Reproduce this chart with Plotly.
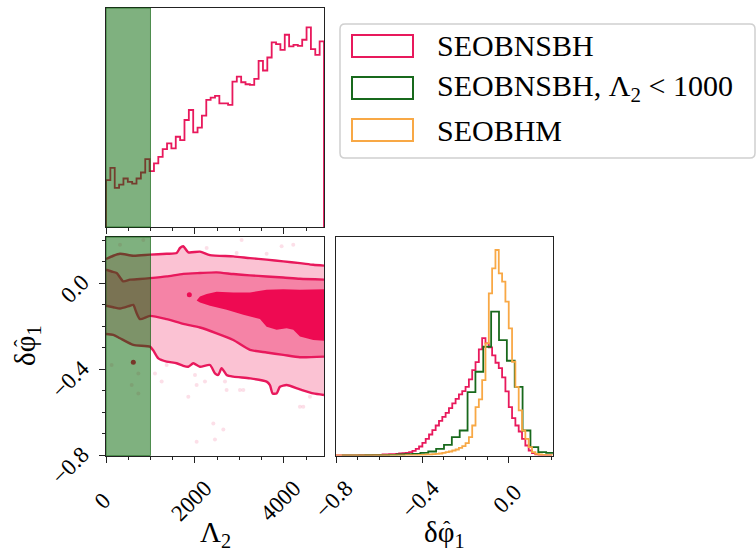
import numpy as np
import plotly.graph_objects as go

# ---------------- data ----------------
# Lambda_2 marginal (SEOBNSBH), 50 bins over [0, 4900]
lam_edges = np.linspace(0, 4900, 51)
lam_hist = [140, 177, 117, 127, 145, 135, 130, 145, 163, 203,
            167, 190, 210, 233, 250, 235, 270, 260, 320, 350,
            283, 297, 333, 380, 387, 392, 370, 370, 365, 435,
            450, 433, 427, 425, 443, 497, 468, 507, 552, 547,
            530, 575, 540, 545, 542, 560, 597, 532, 515, 555]

# delta phi_1 marginals
phi_edges = np.arange(-52, 14) / 65.0
phi_hist_nsbh = [0, 0, 0, 0, 0, 0, 0,
                 1, 1, 1, 1, 2,
                 2, 2, 3, 3, 4, 4, 5, 6, 7, 8,
                 10, 14, 20, 27, 38, 50, 63, 76, 90, 104,
                 116, 128, 142, 156, 170, 183, 193, 206, 228, 256,
                 280, 318, 352, 336, 324, 300, 278, 262, 234, 192,
                 145, 112, 90, 72, 50, 30, 15, 7, 3, 1, 1, 0, 0]
phi_hist_bhm = [0] * 21 + [1, 1, 1, 1, 2, 2, 3, 3, 4, 5,
                           6, 8, 10, 12, 15, 18, 23, 28, 37, 55,
                           90, 145, 168, 226, 336, 486, 561, 616, 546, 521,
                           461, 381, 281, 206, 135, 75, 50, 25, 10, 5, 3, 2, 1, 1]
phi_edges_low = np.linspace(-0.7731, 0.2097, 28)
phi_hist_low = [0, 0, 0, 1, 1,
                1, 2, 3, 4, 5,
                8, 12, 20, 32, 55,
                75, 190, 251, 326, 431,
                346, 284, 206, 75, 25, 10, 8]

# 2D credible contours (Lambda_2, delta phi_1)
outer_up_lam = [0, 165, 315, 614, 989, 1363, 1588, 1663, 1738, 1850, 2112, 2337,
                2862, 3236, 3610, 3985, 4359, 4659, 4900]
outer_up_phi = [0.112, 0.127, 0.136, 0.127, 0.132, 0.136, 0.140, 0.163, 0.171, 0.143,
                0.146, 0.130, 0.124, 0.116, 0.109, 0.101, 0.093, 0.085, 0.081]
outer_lo_lam = [0, 165, 315, 614, 989, 1064, 1176, 1363, 1588, 1738, 1850, 1962, 2112,
                2337, 2449, 2524, 2599, 2711, 2861, 3236, 3610, 3685, 3745, 3835, 3910,
                4060, 4359, 4659, 4900]
outer_lo_phi = [-0.236, -0.240, -0.256, -0.287, -0.295, -0.313, -0.349, -0.364, -0.372,
                -0.384, -0.388, -0.372, -0.388, -0.380, -0.419, -0.426, -0.395, -0.426,
                -0.434, -0.442, -0.457, -0.473, -0.512, -0.512, -0.481, -0.473, -0.493,
                -0.512, -0.519]
mid_up_lam = [0, 127, 240, 389, 539, 764, 989, 1363, 1738, 2112, 2487, 2861, 3236,
              3610, 3985, 4359, 4900]
mid_up_phi = [0.062, 0.054, 0.047, 0.008, 0.016, 0.019, 0.023, 0.031, 0.043, 0.047,
              0.050, 0.042, 0.036, 0.031, 0.026, 0.020, 0.016]
mid_lo_lam = [0, 165, 315, 539, 614, 674, 764, 989, 1363, 1738, 2112, 2487, 2861, 3236,
              3610, 3985, 4359, 4900]
mid_lo_phi = [-0.105, -0.112, -0.118, -0.105, -0.101, -0.132, -0.167, -0.152, -0.167,
              -0.189, -0.206, -0.233, -0.264, -0.310, -0.322, -0.333, -0.344, -0.341]
inner_lam = [2037, 2112, 2262, 2487, 2861, 3236, 3610, 3985, 4359, 4900,
             4900, 4659, 4359, 4209, 4060, 3835, 3610, 3460, 3086, 2711, 2337, 2112, 2037]
inner_phi = [-0.081, -0.062, -0.050, -0.040, -0.043, -0.043, -0.031, -0.028, -0.031, -0.028,
             -0.267, -0.264, -0.248, -0.217, -0.209, -0.217, -0.202, -0.167, -0.147, -0.124,
             -0.105, -0.090, -0.081]

# scattered samples outside the contours
pts_lam = [2262, 2936, 3610, 3947, 4209, 3048, 1363, 1251, 1101, 2000, 2224, 2674, 2711,
           3011, 3086, 1850, 2037, 4359, 4434, 4584, 2412, 2637, 2449, 2037, 315, 839,
           127, 727, 577, 727]
pts_phi = [0.163, 0.14, 0.136, 0.171, 0.178, 0.2, -0.38, -0.457, -0.419, -0.426, -0.457,
           -0.457, -0.496, -0.496, -0.496, -0.527, -0.473, -0.574, -0.574, -0.527, -0.651,
           -0.679, -0.726, -0.736, 0.178, 0.2, -0.38, -0.419, -0.473, -0.512]
dense_lam = [614, 1873]
dense_phi = [-0.367, -0.054]

lam_cut = 1000
lam_ticks = [0, 2000, 4000]
phi_ticks = [-0.8, -0.4, 0.0]
legend_labels = ["SEOBNSBH", "SEOBNSBH, Λ<sub>2</sub> &lt; 1000", "SEOBHM"]

# ---------------- style ----------------
W, H = 756, 551
RED = "#e8195c"
GREEN = "#18691c"
ORANGE = "#f8a845"
FONT = "Liberation Serif"
NB = "\u00a0"


def px(x):
    return x / W


def py(y):
    return 1 - y / H


def step_xy(edges, heights):
    edges = list(edges)
    xs = [edges[0]] + edges + [edges[-1]]
    ys = [0] + list(heights) + [heights[-1], 0]
    return xs, ys


def fmt_phi(v):
    s = f"{v:.1f}"
    return s.replace("-", "\u2212")


fig = go.Figure()

# top marginal
xs, ys = step_xy(lam_edges, lam_hist)
fig.add_trace(go.Scatter(x=xs, y=ys, mode="lines", line=dict(color=RED, width=1.8, shape="hv"),
                         xaxis="x", yaxis="y", showlegend=False, hoverinfo="skip"))

# 2D panel
fig.add_trace(go.Scatter(x=pts_lam, y=pts_phi, mode="markers",
                         marker=dict(color="rgba(240,110,150,0.22)", size=4),
                         xaxis="x2", yaxis="y2", showlegend=False, hoverinfo="skip"))
fig.add_trace(go.Scatter(x=outer_up_lam + outer_lo_lam[::-1], y=outer_up_phi + outer_lo_phi[::-1],
                         mode="none", fill="toself", fillcolor="#fbc2d3",
                         xaxis="x2", yaxis="y2", showlegend=False, hoverinfo="skip"))
fig.add_trace(go.Scatter(x=mid_up_lam + mid_lo_lam[::-1], y=mid_up_phi + mid_lo_phi[::-1],
                         mode="none", fill="toself", fillcolor="#f583a6",
                         xaxis="x2", yaxis="y2", showlegend=False, hoverinfo="skip"))
fig.add_trace(go.Scatter(x=inner_lam, y=inner_phi, mode="none", fill="toself", fillcolor="#ee0a52",
                         xaxis="x2", yaxis="y2", showlegend=False, hoverinfo="skip"))
fig.add_trace(go.Scatter(x=dense_lam, y=dense_phi, mode="markers",
                         marker=dict(color="#ee0a52", size=5),
                         xaxis="x2", yaxis="y2", showlegend=False, hoverinfo="skip"))
for lx, ly in [(outer_up_lam, outer_up_phi), (outer_lo_lam, outer_lo_phi),
               (mid_up_lam, mid_up_phi), (mid_lo_lam, mid_lo_phi)]:
    fig.add_trace(go.Scatter(x=lx, y=ly, mode="lines",
                             line=dict(color=RED, width=2.4, shape="spline", smoothing=0.6),
                             xaxis="x2", yaxis="y2", showlegend=False, hoverinfo="skip"))

# right marginal
for edges, hist, col in [(phi_edges, phi_hist_nsbh, RED),
                         (phi_edges_low, phi_hist_low, GREEN),
                         (phi_edges, phi_hist_bhm, ORANGE)]:
    xs, ys = step_xy(edges, hist)
    fig.add_trace(go.Scatter(x=xs, y=ys, mode="lines", line=dict(color=col, width=1.8, shape="hv"),
                             xaxis="x3", yaxis="y3", showlegend=False, hoverinfo="skip"))

tickfont = dict(family=FONT, size=23, color="black")
common = dict(showline=True, mirror=True, linecolor="#222", linewidth=1.3, automargin=False,
              showgrid=False, zeroline=False, ticks="outside", ticklen=6, tickwidth=1.2,
              tickcolor="#222", tickfont=tickfont)
plain = dict(showline=True, mirror=True, linecolor="#222", linewidth=1.3, automargin=False,
             showgrid=False, zeroline=False, showticklabels=False, ticks="")

dom_x1 = [px(106), px(324)]
dom_x2 = [px(336), px(553)]
dom_ytop = [py(227), py(8)]
dom_ybot = [py(455.5), py(237)]

# pad short labels so rotated labels look centred on their ticks
lam_text = [str(v) + NB * (4 - len(str(v))) for v in lam_ticks]
phi_text_x = [fmt_phi(v) + (NB if v >= 0 else "") for v in phi_ticks]
phi_text_y = [fmt_phi(v) for v in phi_ticks]

fig.update_layout(
    width=W, height=H, margin=dict(l=0, r=0, t=0, b=0, autoexpand=False),
    paper_bgcolor="white", plot_bgcolor="white",
    xaxis=dict(domain=dom_x1, anchor="y", range=[0, 4900], tickvals=lam_ticks,
               showticklabels=False,
               minor=dict(dtick=500, tick0=0, ticks="outside", ticklen=3, tickcolor="#222"), **common),
    yaxis=dict(domain=dom_ytop, anchor="x", range=[0, 655], **plain),
    xaxis2=dict(domain=dom_x1, anchor="y2", range=[0, 4900], tickvals=lam_ticks, ticktext=lam_text,
                tickangle=-45, ticklabelshift=10, ticklabelstandoff=3,
                minor=dict(dtick=500, tick0=0, ticks="outside", ticklen=3, tickcolor="#222"), **common),
    yaxis2=dict(domain=dom_ybot, anchor="x2", range=[-0.8, 0.214], tickvals=phi_ticks,
                ticktext=phi_text_y, tickangle=-45, ticklabelstandoff=12, ticklabelshift=-4,
                minor=dict(dtick=0.1, tick0=0, ticks="outside", ticklen=3, tickcolor="#222"), **common),
    xaxis3=dict(domain=dom_x2, anchor="y3", range=[-0.8, 0.205], tickvals=phi_ticks,
                ticktext=phi_text_x, tickangle=-45, ticklabelshift=10, ticklabelstandoff=3,
                minor=dict(dtick=0.1, tick0=0, ticks="outside", ticklen=3, tickcolor="#222"), **common),
    yaxis3=dict(domain=dom_ybot, anchor="x3", range=[0, 655], **plain),
)

# green band Lambda_2 < 1000
for xr, yr in [("x", "y domain"), ("x2", "y2 domain")]:
    fig.add_shape(type="rect", xref=xr, yref=yr, x0=0, x1=lam_cut, y0=0, y1=1,
                  fillcolor="rgba(0,100,0,0.5)", line=dict(color="rgba(0,90,0,0.6)", width=1),
                  layer="above")

# legend (drawn manually)
x0, x1, y0, y1, r = 340, 755, 24, 158, 5
path = (f"M {px(x0 + r)} {py(y0)} L {px(x1 - r)} {py(y0)} Q {px(x1)} {py(y0)} {px(x1)} {py(y0 + r)} "
        f"L {px(x1)} {py(y1 - r)} Q {px(x1)} {py(y1)} {px(x1 - r)} {py(y1)} "
        f"L {px(x0 + r)} {py(y1)} Q {px(x0)} {py(y1)} {px(x0)} {py(y1 - r)} "
        f"L {px(x0)} {py(y0 + r)} Q {px(x0)} {py(y0)} {px(x0 + r)} {py(y0)} Z")
fig.add_shape(type="path", xref="paper", yref="paper", path=path,
              line=dict(color="#d0d0d0", width=1.5), fillcolor="rgba(255,255,255,0.8)")
for i, (lab, col) in enumerate(zip(legend_labels, [RED, GREEN, ORANGE])):
    yc = 46 + 42 * i
    fig.add_shape(type="rect", xref="paper", yref="paper", x0=px(352), x1=px(413),
                  y0=py(yc + 11), y1=py(yc - 11), line=dict(color=col, width=2), fillcolor="white")
    fig.add_annotation(x=px(435), y=py(yc), xref="paper", yref="paper", text=lab,
                       showarrow=False, xanchor="left", yanchor="middle",
                       font=dict(family=FONT, size=30, color="black"))

# axis labels (hat drawn as separate glyph above phi)
lab_font = dict(family=FONT, size=29, color="black")
hat_font = dict(family=FONT, size=22, color="black")
fig.add_annotation(x=px(215), y=py(534), xref="paper", yref="paper", text="Λ<sub>2</sub>",
                   showarrow=False, xanchor="center", yanchor="middle", font=lab_font)
fig.add_annotation(x=px(444), y=py(534), xref="paper", yref="paper", text="δφ<sub>1</sub>",
                   showarrow=False, xanchor="center", yanchor="middle", font=lab_font)
fig.add_annotation(x=px(447), y=py(528), xref="paper", yref="paper", text="ˆ",
                   showarrow=False, xanchor="center", yanchor="middle", font=hat_font)
fig.add_annotation(x=px(27), y=py(346), xref="paper", yref="paper", text="δφ<sub>1</sub>",
                   showarrow=False, textangle=-90, xanchor="center", yanchor="middle", font=lab_font)
fig.add_annotation(x=px(21), y=py(343), xref="paper", yref="paper", text="ˆ",
                   showarrow=False, textangle=-90, xanchor="center", yanchor="middle", font=hat_font)

fig.write_html("out.html")
